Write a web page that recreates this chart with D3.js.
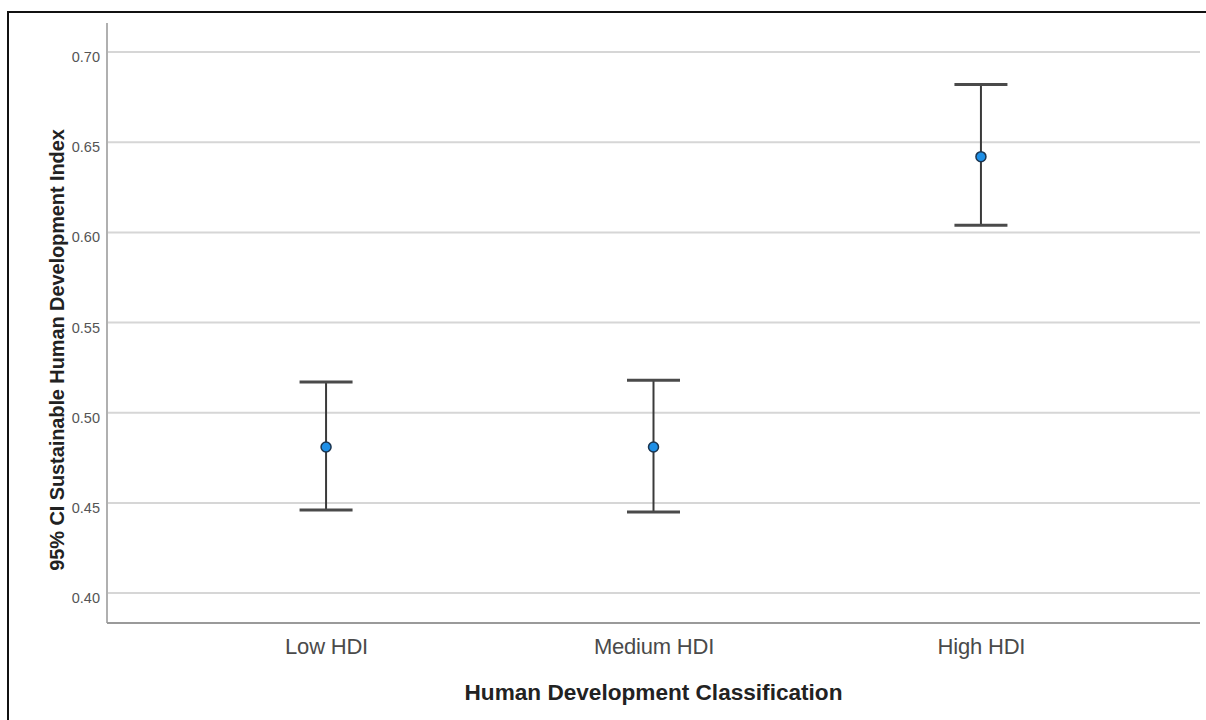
<!DOCTYPE html>
<html>
<head>
<meta charset="utf-8">
<script src="https://cdn.jsdelivr.net/npm/d3@7/dist/d3.min.js"></script>
<style>
  html, body { margin: 0; padding: 0; background: #fff; }
  svg { display: block; }
</style>
</head>
<body>
<svg id="chart" width="1206" height="720"></svg>
<script>
// ---- data ----
const categories = ["Low HDI", "Medium HDI", "High HDI"];
const means = [0.481, 0.481, 0.642];
const lower = [0.446, 0.445, 0.604];
const upper = [0.517, 0.518, 0.682];
const yTicks = [0.40, 0.45, 0.50, 0.55, 0.60, 0.65, 0.70];
const xTitle = "Human Development Classification";
const yTitle = "95% CI Sustainable Human Development Index";

(function () {
const svg = d3.select("#chart");
const W = 1206, H = 720;

// frame (partially cropped like the reference)
svg.append("rect")
  .attr("x", 8).attr("y", 12)
  .attr("width", W + 20).attr("height", H + 20)
  .attr("fill", "#fff").attr("stroke", "#111").attr("stroke-width", 2);

const pL = 107, pR = 1200, pT = 23, pB = 623;

const x = d3.scalePoint().domain(categories).range([pL, pR]).padding(0.669);
const y = d3.scaleLinear().domain([0.3834, 0.7161]).range([pB, pT]);

// gridlines
svg.append("g").selectAll("line").data(yTicks).join("line")
  .attr("x1", pL).attr("x2", pR)
  .attr("y1", d => y(d)).attr("y2", d => y(d))
  .attr("stroke", "#d6d6d6").attr("stroke-width", 2);

// y axis
const yAxis = svg.append("g")
  .attr("transform", `translate(${pL},0)`)
  .call(d3.axisLeft(y).tickValues(yTicks).tickFormat(d3.format(".2f")).tickSize(0).tickPadding(7));
yAxis.select(".domain").remove();
yAxis.selectAll("text")
  .attr("fill", "#555")
  .attr("font-family", "'Liberation Sans', Arial, sans-serif")
  .attr("font-size", 14.5)
  .attr("dy", 0)
  .attr("y", 9.5);

svg.append("line")
  .attr("x1", pL).attr("x2", pL)
  .attr("y1", pT).attr("y2", pB)
  .attr("stroke", "#b0b0b0").attr("stroke-width", 2);

// x axis
const xAxis = svg.append("g")
  .attr("transform", `translate(0,${pB})`)
  .call(d3.axisBottom(x).tickSize(0).tickPadding(0));
xAxis.select(".domain").remove();
xAxis.selectAll("text")
  .attr("fill", "#4a4a4a")
  .attr("font-family", "'Liberation Sans', Arial, sans-serif")
  .attr("font-size", 22)
  .attr("letter-spacing", "-0.2")
  .attr("dy", 0)
  .attr("y", 31);

svg.append("line")
  .attr("x1", pL).attr("x2", pR)
  .attr("y1", pB).attr("y2", pB)
  .attr("stroke", "#9a9a9a").attr("stroke-width", 2);

// axis titles
svg.append("text")
  .attr("x", (pL + pR) / 2).attr("y", 700)
  .attr("text-anchor", "middle")
  .attr("font-family", "'Liberation Sans', Arial, sans-serif")
  .attr("font-weight", "bold")
  .attr("font-size", 22.6)
  .attr("fill", "#222")
  .text(xTitle);

svg.append("text")
  .attr("transform", `translate(64,350) rotate(-90)`)
  .attr("text-anchor", "middle")
  .attr("font-family", "'Liberation Sans', Arial, sans-serif")
  .attr("font-weight", "bold")
  .attr("font-size", 20)
  .attr("letter-spacing", "-0.1")
  .attr("fill", "#222")
  .text(yTitle);

// error bars
const data = categories.map((c, i) => ({ c, m: means[i], lo: lower[i], hi: upper[i] }));
const g = svg.append("g");
const capW = 26.5;

g.selectAll(".stem").data(data).join("line")
  .attr("class", "stem")
  .attr("x1", d => x(d.c)).attr("x2", d => x(d.c))
  .attr("y1", d => y(d.hi)).attr("y2", d => y(d.lo))
  .attr("stroke", "#3a3a3a").attr("stroke-width", 2);

g.selectAll(".capHi").data(data).join("line")
  .attr("class", "capHi")
  .attr("x1", d => x(d.c) - capW).attr("x2", d => x(d.c) + capW)
  .attr("y1", d => y(d.hi)).attr("y2", d => y(d.hi))
  .attr("stroke", "#4a4a4a").attr("stroke-width", 3);

g.selectAll(".capLo").data(data).join("line")
  .attr("class", "capLo")
  .attr("x1", d => x(d.c) - capW).attr("x2", d => x(d.c) + capW)
  .attr("y1", d => y(d.lo)).attr("y2", d => y(d.lo))
  .attr("stroke", "#4a4a4a").attr("stroke-width", 3);

g.selectAll("circle").data(data).join("circle")
  .attr("cx", d => x(d.c)).attr("cy", d => y(d.m))
  .attr("r", 5)
  .attr("fill", "#1e8fe6")
  .attr("stroke", "#1b3550").attr("stroke-width", 1.5);
})();
</script>
</body>
</html>
